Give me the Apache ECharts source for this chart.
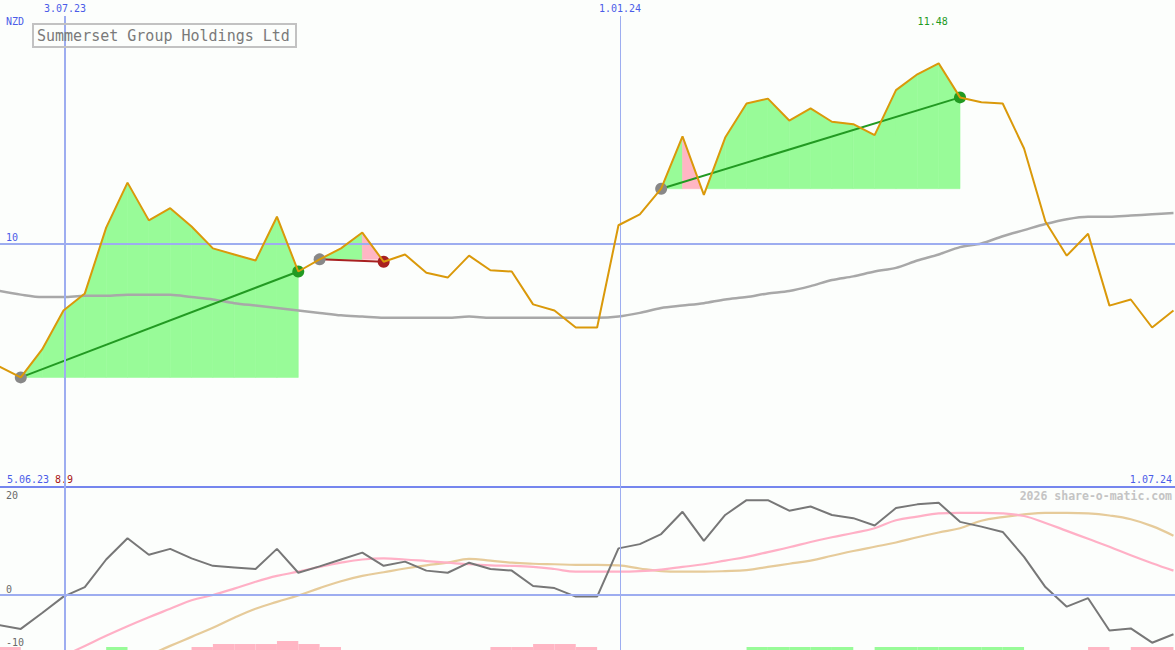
<!DOCTYPE html>
<html><head><meta charset="utf-8">
<script src="https://cdn.jsdelivr.net/npm/echarts@6/dist/echarts.min.js"></script>
<style>html,body{margin:0;padding:0;background:#fcfefc}#c{width:1175px;height:650px}</style>
</head><body><div id="c"></div>
<script>
// ---------- data ----------
const title = 'Summerset Group Holdings Ltd';
const currency = 'NZD';
const weeks = ['2023-06-11','2023-06-18','2023-06-25','2023-07-02','2023-07-09','2023-07-16','2023-07-23','2023-07-30',
 '2023-08-06','2023-08-13','2023-08-20','2023-08-27','2023-09-03','2023-09-10','2023-09-17','2023-09-24',
 '2023-10-01','2023-10-08','2023-10-15','2023-10-22','2023-10-29','2023-11-05','2023-11-12','2023-11-19','2023-11-26',
 '2023-12-03','2023-12-10','2023-12-17','2023-12-24','2023-12-31','2024-01-07','2024-01-14','2024-01-21','2024-01-28',
 '2024-02-04','2024-02-11','2024-02-18','2024-02-25','2024-03-03','2024-03-10','2024-03-17','2024-03-24','2024-03-31',
 '2024-04-07','2024-04-14','2024-04-21','2024-04-28','2024-05-05','2024-05-12','2024-05-19','2024-05-26',
 '2024-06-02','2024-06-09','2024-06-16','2024-06-23','2024-06-30'];
const price = [8.99, 8.90, 9.13, 9.45, 9.59, 10.13, 10.50, 10.19, 10.29, 10.14,
 9.96, 9.91, 9.86, 10.22, 9.77, 9.87, 9.96, 10.09, 9.85, 9.91,
 9.76, 9.72, 9.90, 9.78, 9.77, 9.50, 9.45, 9.31, 9.31, 10.15,
 10.24, 10.45, 10.88, 10.40, 10.87, 11.15, 11.19, 11.01, 11.11, 11.00,
 10.98, 10.89, 11.26, 11.39, 11.48, 11.20, 11.16, 11.15, 10.78, 10.18,
 9.90, 10.08, 9.49, 9.54, 9.31, 9.45];
const movingAvg = [9.61, 9.58, 9.56, 9.56, 9.57, 9.57, 9.58, 9.58, 9.58, 9.56,
 9.54, 9.51, 9.49, 9.47, 9.45, 9.43, 9.41, 9.40, 9.39, 9.39,
 9.39, 9.39, 9.40, 9.39, 9.39, 9.39, 9.39, 9.39, 9.39, 9.40,
 9.43, 9.47, 9.49, 9.51, 9.54, 9.56, 9.59, 9.61, 9.65, 9.70,
 9.73, 9.77, 9.80, 9.86, 9.91, 9.97, 10.00, 10.06, 10.11, 10.16,
 10.20, 10.22, 10.22, 10.23, 10.24, 10.25];
const oscMain = [-5.7, -6.4, -3.4, -0.3, 1.5, 6.7, 10.7, 7.6, 8.7, 6.9,
 5.5, 5.2, 4.9, 8.7, 4.2, 5.4, 6.7, 8.0, 5.5, 6.3,
 4.6, 4.2, 6.1, 4.9, 4.6, 1.7, 1.3, -0.3, -0.3, 8.8,
 9.6, 11.5, 15.7, 10.2, 15.1, 17.9, 17.9, 15.9, 16.7, 15.1,
 14.5, 13.1, 16.4, 17.1, 17.4, 13.8, 12.9, 11.9, 7.2, 1.5,
 -2.2, -0.6, -6.7, -6.3, -9.0, -7.4];
const oscFast = [-17.2, -15.3, -13.4, -11.5, -9.6, -7.7, -5.9, -4.2, -2.6, -1.0,
 0.0, 1.2, 2.5, 3.6, 4.4, 5.3, 6.1, 6.7, 6.9, 6.7,
 6.4, 6.1, 5.8, 5.6, 5.5, 5.3, 4.9, 4.4, 4.4, 4.4,
 4.5, 4.8, 5.3, 5.8, 6.5, 7.2, 8.1, 9.0, 10.0, 10.9,
 11.7, 12.6, 14.1, 14.8, 15.4, 15.5, 15.5, 15.4, 14.9, 13.6,
 12.1, 10.6, 9.1, 7.5, 6.0, 4.6];
const oscSlow = [-23.8, -22.0, -20.3, -18.5, -16.7, -15.0, -13.2, -11.4, -9.6, -7.9,
 -6.2, -4.3, -2.6, -1.3, -0.1, 1.3, 2.6, 3.6, 4.3, 5.0,
 5.6, 6.1, 6.8, 6.5, 6.1, 5.9, 5.8, 5.7, 5.7, 5.6,
 5.0, 4.5, 4.4, 4.4, 4.5, 4.7, 5.3, 5.9, 6.5, 7.4,
 8.3, 9.1, 9.9, 10.9, 11.8, 12.6, 14.0, 14.7, 15.2, 15.5,
 15.5, 15.4, 15.0, 14.3, 13.0, 11.2];
// weekly signal strength (week k -> k+1): + green, - pink
const signal = [-1, 0, 0, 0, 0, 1, 0, 0, 0, -1,
 -2, -2, -2, -3, -2, -1, 0, 0, 0, 0,
 0, 0, 0, -1, -1, -2, -2, -1, 0, 0,
 0, 0, 0, 0, 0, 1, 1, 1, 1, 1,
 0, 1, 1, 1, 1, 1, 1, 1, 0, 0,
 0, -1, 0, -1, -1];
// trades: index of entry week and exit week
const trades = [[1, 14], [15, 18], [31, 45]];
const dateMarks = [['2023-07-03', '3.07.23', 2], ['2024-01-01', '1.01.24', 1]];
const priceGridValue = 10;
const oscLabels = [20, 0, -10];
const startLabel = '5.06.23';
const endLabel = '1.07.24';
const watermark = '2026 share-o-matic.com';

// ---------- helpers ----------
function T(s) {
  const m = s.match(/(\d+)-(\d+)-(\d+)(?:[ T](\d+):(\d+))?/);
  return new Date(+m[1], +m[2] - 1, +m[3], +(m[4] || 0), +(m[5] || 0)).getTime();
}
const HALF_DAY = 12 * 3600 * 1000;
const wt = weeks.map(d => T(d) + HALF_DAY);
const pairs = arr => arr.map((v, i) => [wt[i], v]);

const MONO = "'DejaVu Sans Mono', monospace";
const BLUE = '#4b5ce8';
const GRID_BLUE = '#9dadf0';
const GREEN = '#98fb98', PINK = '#ffb6c4';
const CLEAR = 'rgba(0,0,0,0)';
const X_MIN = T('2023-06-11 16:26'), X_MAX = T('2024-07-01');

// fill segments
const fillData = [];
trades.forEach(([a, b]) => {
  for (let k = a; k < b; k++) fillData.push([wt[k], price[k], wt[k + 1], price[k + 1], price[a]]);
});
function fillItem(params, api) {
  const x0 = api.value(0), y0 = api.value(1), x1 = api.value(2), y1 = api.value(3), base = api.value(4);
  const a0 = y0 - base, a1 = y1 - base;
  if (a0 <= 0 && a1 <= 0) return null;
  let xs = x0, ys = y0, xe = x1, ye = y1;
  if (a0 < 0) { const f = a0 / (a0 - a1); xs = x0 + f * (x1 - x0); ys = base; }
  if (a1 < 0) { const f = a0 / (a0 - a1); xe = x0 + f * (x1 - x0); ye = base; }
  const pts = [api.coord([xs, ys]), api.coord([xe, ye]), api.coord([xe, base]), api.coord([xs, base])];
  const c = y1 < base ? PINK : GREEN;
  return { type: 'polygon', shape: { points: pts }, style: { fill: c, stroke: c, lineWidth: 0.6 } };
}
const barData = signal.map((v, k) => [wt[k], wt[k + 1], v]);
function barItem(params, api) {
  const v = api.value(2);
  if (!v) return null;
  const p0 = api.coord([api.value(0), 0]);
  const p1 = api.coord([api.value(1), Math.abs(v)]);
  return { type: 'rect', shape: { x: p0[0], y: p1[1], width: p1[0] - p0[0], height: p0[1] - p1[1] },
    style: { fill: v > 0 ? GREEN : PINK } };
}

const tradeSeries = trades.map(([a, b]) => {
  const win = price[b] >= price[a];
  const col = win ? '#229a22' : '#a82020';
  return {
    type: 'line', xAxisIndex: 0, yAxisIndex: 0, z: 4, silent: true,
    data: [
      { value: [wt[a], price[a]], itemStyle: { color: '#888888' } },
      { value: [wt[b], price[b]], itemStyle: { color: col } }
    ],
    symbol: 'circle', symbolSize: 12, showSymbol: true,
    lineStyle: { color: col, width: 2 }
  };
});

const txt = { fontFamily: MONO, fontSize: 10 };
const vMarks = (withLabel) => dateMarks.map(([d, lab, w]) => ({
  xAxis: T(d),
  lineStyle: { width: w, color: GRID_BLUE, type: 'solid' },
  label: withLabel ? { show: true, formatter: lab, position: 'end', distance: 3, color: BLUE, ...txt } : { show: false }
}));
const oscLabelStyle = { show: true, formatter: '{c}', color: '#6a6a6a', ...txt };

const option = {
  backgroundColor: '#fcfefc',
  animation: false,
  title: {
    text: title, left: 33, top: 24, padding: [4, 6, 3, 4],
    borderColor: '#c2c2c2', borderWidth: 2,
    textStyle: { fontFamily: MONO, fontSize: 15, fontWeight: 'normal', color: '#7a7a7a', lineHeight: 16 }
  },
  grid: [
    { left: 0, right: 0, top: 16, height: 471 },
    { left: 0, right: 0, top: 487, height: 163 }
  ],
  xAxis: [
    { type: 'time', gridIndex: 0, min: X_MIN, max: X_MAX,
      axisLine: { show: true, onZero: false, lineStyle: { color: '#7586ee', width: 2 } },
      axisTick: { show: false }, axisLabel: { show: false }, splitLine: { show: false } },
    { type: 'time', gridIndex: 1, min: X_MIN, max: X_MAX, show: false, splitLine: { show: false } }
  ],
  yAxis: [
    { type: 'value', gridIndex: 0, min: 8, max: 11.8686, show: false, splitLine: { show: false } },
    { type: 'value', gridIndex: 1, min: -10.377, max: 20.377, show: false, splitLine: { show: false } },
    { type: 'value', gridIndex: 1, min: 0, max: 54.33, show: false, splitLine: { show: false } }
  ],
  graphic: [
    { type: 'text', left: 6, top: 16, style: { text: currency, fill: BLUE, font: '10px ' + MONO } },
    { type: 'text', left: 7, top: 474, style: { text: startLabel, fill: BLUE, font: '10px ' + MONO } },
    { type: 'text', left: 55, top: 474, style: { text: String(Math.min(...price)), fill: '#a81414', font: '10px ' + MONO } },
    { type: 'text', right: 3, top: 474, style: { text: endLabel, fill: BLUE, font: '10px ' + MONO } },
    { type: 'text', right: 3, top: 490, style: { text: watermark, fill: '#c4c4c4', font: 'bold 11.5px ' + MONO } }
  ],
  series: [
    { type: 'custom', xAxisIndex: 0, yAxisIndex: 0, z: 1, silent: true, clip: true,
      renderItem: fillItem, data: fillData, encode: { x: [0, 2], y: [1, 3, 4] } },
    { type: 'line', xAxisIndex: 0, yAxisIndex: 0, z: 2, data: pairs(movingAvg), symbol: 'none', smooth: 0.3,
      lineStyle: { color: '#a8a8a8', width: 2.5 }, silent: true,
      markLine: { silent: true, symbol: 'none', animation: false,
        data: [...vMarks(true), { yAxis: priceGridValue, lineStyle: { color: GRID_BLUE, width: 2, type: 'solid' },
          label: { show: true, position: 'insideStartTop', distance: [6, 1], formatter: '{c}', color: BLUE, ...txt } }] } },
    ...tradeSeries,
    { type: 'line', xAxisIndex: 0, yAxisIndex: 0, z: 5, data: pairs(price), symbol: 'none',
      lineStyle: { color: '#da990a', width: 2 }, silent: true,
      markPoint: { symbol: 'circle', symbolSize: 1, itemStyle: { color: CLEAR },
        data: [{ type: 'max' }],
        label: { show: true, position: 'top', distance: 36, offset: [-6, 0], formatter: '{c}', color: '#1e9a1e', ...txt } } },
    // lower panel
    { type: 'custom', xAxisIndex: 1, yAxisIndex: 2, z: 1, silent: true, clip: true,
      renderItem: barItem, data: barData, encode: { x: [0, 1], y: 2 } },
    { type: 'line', xAxisIndex: 1, yAxisIndex: 1, z: 2, data: pairs(oscSlow), symbol: 'none', smooth: 0.4,
      lineStyle: { color: '#e6cb9a', width: 2.2 }, silent: true,
      markLine: { silent: true, symbol: 'none', animation: false,
        data: [...vMarks(false),
          { yAxis: oscLabels[1], lineStyle: { color: GRID_BLUE, width: 2, type: 'solid' },
            label: { ...oscLabelStyle, position: 'insideStartTop', distance: [6, 1] } },
          { yAxis: oscLabels[0], lineStyle: { color: CLEAR, width: 1, type: 'solid' },
            label: { ...oscLabelStyle, position: 'insideStartBottom', distance: [6, 2] } },
          { yAxis: oscLabels[2], lineStyle: { color: CLEAR, width: 1, type: 'solid' },
            label: { ...oscLabelStyle, position: 'insideStartTop', distance: [6, 1] } }
        ] } },
    { type: 'line', xAxisIndex: 1, yAxisIndex: 1, z: 3, data: pairs(oscFast), symbol: 'none', smooth: 0.4,
      lineStyle: { color: '#ffb0c6', width: 2.2 }, silent: true },
    { type: 'line', xAxisIndex: 1, yAxisIndex: 1, z: 4, data: pairs(oscMain), symbol: 'none',
      lineStyle: { color: '#777777', width: 2 }, silent: true }
  ]
};
const chart = echarts.init(document.getElementById('c'), null, { renderer: 'svg' });
chart.setOption(option);
</script></body></html>
